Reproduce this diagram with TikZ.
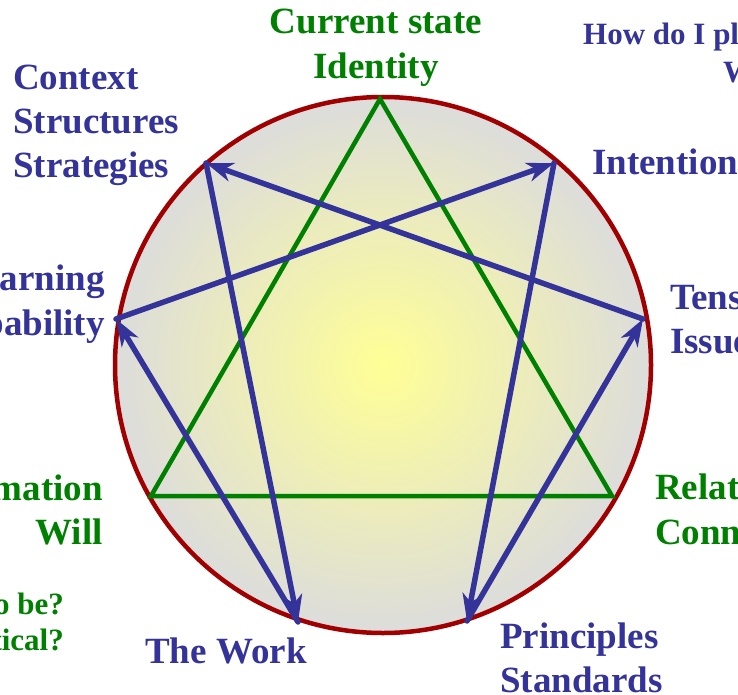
\documentclass[tikz,border=0pt]{standalone}
\usepackage{fontspec}
\setmainfont{Liberation Serif}
\usetikzlibrary{arrows.meta}
\definecolor{tblue}{RGB}{51,51,153}
\definecolor{tgreen}{RGB}{0,128,0}
\definecolor{tred}{RGB}{160,0,0}
\definecolor{tyel}{RGB}{255,255,150}
\definecolor{tgray}{RGB}{220,220,220}
\begin{document}
\begin{tikzpicture}[x=1pt,y=-1pt,
  big/.style={inner sep=0pt,font=\fontsize{37}{44}\selectfont\bfseries},
  small/.style={inner sep=0pt,font=\fontsize{31}{38}\selectfont\bfseries},
  bl/.style={big,text=tblue},
  gr/.style={big,text=tgreen},
  sbl/.style={small,text=tblue},
  sgr/.style={small,text=tgreen},
  hexad/.style={draw=tblue,line width=5.5pt,line cap=round,line join=round,
    -{Stealth[length=27pt,width=19pt,inset=8pt]}},
  triad/.style={draw=tgreen,line width=4.5pt,line join=miter},
  ring/.style={draw=tred,line width=4.5pt}]
\useasboundingbox (0,0) rectangle (738,695);
\coordinate (c) at (383,365);
\shade[inner color=tyel,outer color=tgray] (c) circle (268);
\draw[ring] (c) circle (268);
\coordinate (p0) at (380,99);
\coordinate (p1) at (554,163);
\coordinate (p2) at (643,319);
\coordinate (p3) at (612,496);
\coordinate (p4) at (467,621);
\coordinate (p5) at (298,622);
\coordinate (p6) at (151,496);
\coordinate (p7) at (116,319);
\coordinate (p8) at (206,163);
\draw[triad] (p0) -- (p3) -- (p6) -- cycle;
\draw[hexad] (p1) -- (p4);
\draw[hexad] (p4) -- (p2);
\draw[hexad] (p2) -- (p8);
\draw[hexad] (p8) -- (p5);
\draw[hexad] (p5) -- (p7);
\draw[hexad] (p7) -- (p1);
% labels
\node[gr,anchor=base] (t0a) at (376,34) {Current state};
\node[gr,anchor=base] (t0b) at (376,79) {Identity};
\node[bl,anchor=base west] (t8a) at (13,90) {Context};
\node[bl,anchor=base west] (t8b) at (13,134) {Structures};
\node[bl,anchor=base west] (t8c) at (13,178) {Strategies};
\node[bl,anchor=base west] (t1a) at (592,175) {Intention};
\node[sbl,anchor=base west] (q1a) at (583,45) {How do I plan};
\node[sbl,anchor=base west] (q1b) at (723,83) {What};
\node[bl,anchor=base east] (t7a) at (105,290) {Learning};
\node[bl,anchor=base east] (t7b) at (105,335) {Capability};
\node[bl,anchor=base west] (t2a) at (670,309) {Tension};
\node[bl,anchor=base west] (t2b) at (670,353) {Issues};
\node[gr,anchor=base east] (t6a) at (103,500) {Transformation};
\node[gr,anchor=base east] (t6b) at (103,544) {Will};
\node[sgr,anchor=base east] (q6a) at (64,614) {to be?};
\node[sgr,anchor=base east] (q6b) at (64,650) {critical?};
\node[gr,anchor=base west] (t3a) at (655,499) {Relationships};
\node[gr,anchor=base west] (t3b) at (655,544) {Connections};
\node[bl,anchor=base west] (t5a) at (145,663) {The Work};
\node[bl,anchor=base west] (t4a) at (500,648) {Principles};
\node[bl,anchor=base west] (t4b) at (500,692) {Standards};
\end{tikzpicture}
\end{document}
